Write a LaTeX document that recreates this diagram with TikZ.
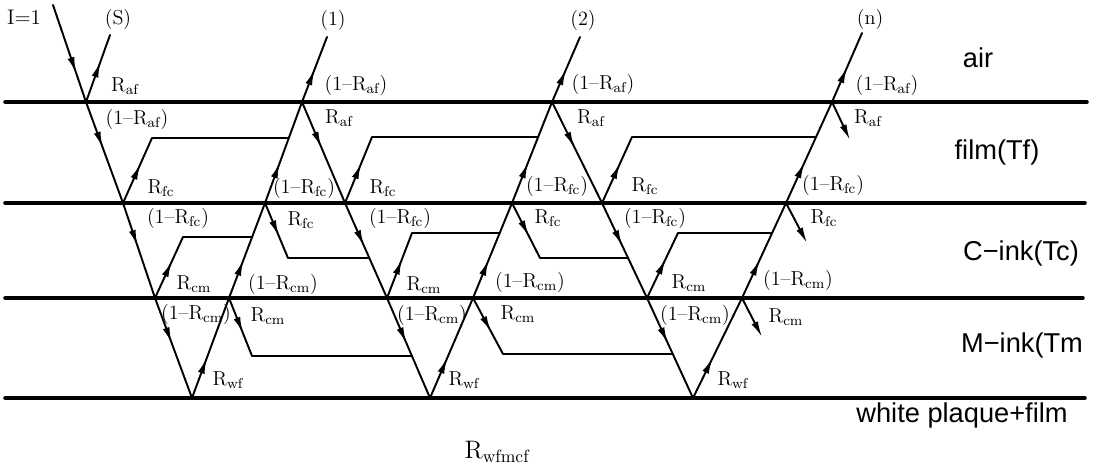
\documentclass[tikz,border=0pt]{standalone}
\usepackage{fontspec}
\newfontfamily\layerfont{Liberation Sans}
\usetikzlibrary{arrows.meta,decorations.markings}

\begin{document}
\begin{tikzpicture}[x=0.2mm,y=-0.2mm,line cap=round,line join=round,
  iface/.style={line width=2pt},
  ray/.style={line width=1.1pt},
  link/.style={line width=0.8pt},
  midarrow/.style={postaction={decorate},decoration={markings,
    mark=at position #1 with {\arrow{Latex[length=9pt,width=4pt]}}}},
  midarrow/.default=0.45,
  endarrow/.style={-{Latex[length=9pt,width=4pt]}},
  lbl/.style={inner sep=0pt,font=\fontsize{11.5}{13}\selectfont},
  layer/.style={inner sep=0pt,font=\layerfont\fontsize{15.5}{18}\selectfont}]
  \useasboundingbox (0,0) rectangle (1096,470);
  % interfaces
  \draw[iface] (5,102) -- (1087,102);
  \draw[iface] (5,203) -- (1085,203);
  \draw[iface] (5,298) -- (1083,298);
  \draw[iface] (5,398) -- (1085,398);
  \node[layer] (air) at (978,58) {air};
  \node[layer] (film) at (997,152) {film(Tf)};
  \node[layer] (cink) at (1021,253) {C−ink(Tc)};
  \node[layer] (mink) at (1022,345) {M−ink(Tm};
  \node[layer] (white) at (962,415) {white plaque+film};
  % vertices
  \coordinate (in) at (53,5);
  \coordinate (s0) at (86,102);   \coordinate (st) at (110,35);
  \coordinate (s1) at (123,203);  \coordinate (s2) at (155,298);
  \coordinate (s3) at (192,398);
  \coordinate (u1) at (229,298);  \coordinate (u2) at (265,203);
  \coordinate (u3) at (302,102);  \coordinate (ut) at (327,37);
  \coordinate (v1) at (345,203);  \coordinate (v2) at (387,298);
  \coordinate (v3) at (430,398);
  \coordinate (w1) at (473,298);  \coordinate (w2) at (512,203);
  \coordinate (w3) at (552,102);  \coordinate (wt) at (580,37);
  \coordinate (x1) at (602,203);  \coordinate (x2) at (647,298);
  \coordinate (x3) at (693,398);
  \coordinate (y1) at (742,298);  \coordinate (y2) at (786,203);
  \coordinate (y3) at (832,102);  \coordinate (yt) at (862,33);
  % knees and ends of the side paths
  \coordinate (s1k) at (152,138); \coordinate (s1e) at (289,138);
  \coordinate (s2k) at (183,237); \coordinate (s2e) at (252,237);
  \coordinate (u1k) at (252,356); \coordinate (u1e) at (412,356);
  \coordinate (u2k) at (288,258); \coordinate (u2e) at (369,258);
  \coordinate (v1k) at (372,137); \coordinate (v1e) at (538,137);
  \coordinate (v2k) at (412,233); \coordinate (v2e) at (500,233);
  \coordinate (w1k) at (503,354); \coordinate (w1e) at (673,354);
  \coordinate (w2k) at (540,258); \coordinate (w2e) at (628,258);
  \coordinate (x1k) at (632,137); \coordinate (x1e) at (816,137);
  \coordinate (x2k) at (678,233); \coordinate (x2e) at (772,233);
  \coordinate (y1k) at (762,337); \coordinate (y2k) at (807,243);
  \coordinate (y3k) at (850,140);
  % (S)
  \draw[ray,midarrow=0.7] (in) -- (s0);
  \draw[ray,midarrow=0.6] (s0) -- (st);
  \draw[ray,midarrow] (s0) -- (s1);
  \draw[ray,midarrow] (s1) -- (s2);
  \draw[ray,midarrow] (s2) -- (s3);
  \draw[ray,midarrow=0.6] (s1) -- (s1k);
  \draw[link] (s1k) -- (s1e);
  \draw[ray,midarrow=0.6] (s2) -- (s2k);
  \draw[link] (s2k) -- (s2e);
  % (1)
  \draw[ray,midarrow=0.4] (s3) -- (u1);
  \draw[ray,midarrow=0.4] (u1) -- (u2);
  \draw[ray,midarrow=0.4] (u2) -- (u3);
  \draw[ray,midarrow=0.5] (u3) -- (ut);
  \draw[ray,midarrow=0.6] (u1) -- (u1k);
  \draw[link] (u1k) -- (u1e);
  \draw[ray,midarrow=0.6] (u2) -- (u2k);
  \draw[link] (u2k) -- (u2e);
  \draw[ray,midarrow] (u3) -- (v1);
  \draw[ray,midarrow] (v1) -- (v2);
  \draw[ray,midarrow] (v2) -- (v3);
  \draw[ray,midarrow=0.6] (v1) -- (v1k);
  \draw[link] (v1k) -- (v1e);
  \draw[ray,midarrow=0.6] (v2) -- (v2k);
  \draw[link] (v2k) -- (v2e);
  % (2)
  \draw[ray,midarrow=0.4] (v3) -- (w1);
  \draw[ray,midarrow=0.4] (w1) -- (w2);
  \draw[ray,midarrow=0.4] (w2) -- (w3);
  \draw[ray,midarrow=0.5] (w3) -- (wt);
  \draw[ray,midarrow=0.6] (w1) -- (w1k);
  \draw[link] (w1k) -- (w1e);
  \draw[ray,midarrow=0.6] (w2) -- (w2k);
  \draw[link] (w2k) -- (w2e);
  \draw[ray,midarrow] (w3) -- (x1);
  \draw[ray,midarrow] (x1) -- (x2);
  \draw[ray,midarrow] (x2) -- (x3);
  \draw[ray,midarrow=0.6] (x1) -- (x1k);
  \draw[link] (x1k) -- (x1e);
  \draw[ray,midarrow=0.6] (x2) -- (x2k);
  \draw[link] (x2k) -- (x2e);
  % (n)
  \draw[ray,midarrow=0.4] (x3) -- (y1);
  \draw[ray,midarrow=0.4] (y1) -- (y2);
  \draw[ray,midarrow=0.4] (y2) -- (y3);
  \draw[ray,midarrow=0.5] (y3) -- (yt);
  \draw[ray,endarrow] (y1) -- (y1k);
  \draw[ray,endarrow] (y2) -- (y2k);
  \draw[ray,endarrow] (y3) -- (y3k);
  % labels
  \node[lbl,font=\fontsize{12}{14}\selectfont] (inten) at (24,17) {I=1};
  \node[lbl] (nS) at (118,19) {(S)};
  \node[lbl] (n1) at (333,20) {(1)};
  \node[lbl] (n2) at (583,20) {(2)};
  \node[lbl] (nn) at (870,19) {(n)};
  \node[lbl] (rafS) at (125,86) {$\mathrm{R_{af}}$};
  \node[lbl] (tafS) at (137,119) {(1--$\mathrm{R_{af}}$)};
  \node[lbl] (rfcS) at (161,188) {$\mathrm{R_{fc}}$};
  \node[lbl] (tfcS) at (178,218) {(1--$\mathrm{R_{fc}}$)};
  \node[lbl] (rcmS) at (194,284) {$\mathrm{R_{cm}}$};
  \node[lbl] (tcmS) at (196,314) {(1--$\mathrm{R_{cm}}$)};
  \node[lbl] (rwfS) at (228,380) {$\mathrm{R_{wf}}$};
  \node[lbl] (tcmA) at (283,284) {(1--$\mathrm{R_{cm}}$)};
  \node[lbl] (rcmA) at (268,316) {$\mathrm{R_{cm}}$};
  \node[lbl] (rfcA) at (301,220) {$\mathrm{R_{fc}}$};
  \node[lbl] (tfcA) at (304,188) {(1--$\mathrm{R_{fc}}$)};
  \node[lbl] (tafA) at (356,85) {(1--$\mathrm{R_{af}}$)};
  \node[lbl] (rafA) at (339,118) {$\mathrm{R_{af}}$};
  \node[lbl] (rfcB) at (383,188) {$\mathrm{R_{fc}}$};
  \node[lbl] (tfcB) at (400,218) {(1--$\mathrm{R_{fc}}$)};
  \node[lbl] (rcmB) at (424,285) {$\mathrm{R_{cm}}$};
  \node[lbl] (tcmB) at (432,315) {(1--$\mathrm{R_{cm}}$)};
  \node[lbl] (rwfB) at (464,380) {$\mathrm{R_{wf}}$};
  \node[lbl] (tcmC) at (530,282) {(1--$\mathrm{R_{cm}}$)};
  \node[lbl] (rcmC) at (518,314) {$\mathrm{R_{cm}}$};
  \node[lbl] (rfcC) at (548,218) {$\mathrm{R_{fc}}$};
  \node[lbl] (tfcC) at (557,186) {(1--$\mathrm{R_{fc}}$)};
  \node[lbl] (tafC) at (603,84) {(1--$\mathrm{R_{af}}$)};
  \node[lbl] (rafC) at (591,118) {$\mathrm{R_{af}}$};
  \node[lbl] (rfcD) at (645,186) {$\mathrm{R_{fc}}$};
  \node[lbl] (tfcD) at (655,218) {(1--$\mathrm{R_{fc}}$)};
  \node[lbl] (rcmD) at (689,283) {$\mathrm{R_{cm}}$};
  \node[lbl] (tcmD) at (695,315) {(1--$\mathrm{R_{cm}}$)};
  \node[lbl] (rwfD) at (733,380) {$\mathrm{R_{wf}}$};
  \node[lbl] (tcmE) at (798,280) {(1--$\mathrm{R_{cm}}$)};
  \node[lbl] (rcmE) at (786,317) {$\mathrm{R_{cm}}$};
  \node[lbl] (rfcE) at (824,218) {$\mathrm{R_{fc}}$};
  \node[lbl] (tfcE) at (833,185) {(1--$\mathrm{R_{fc}}$)};
  \node[lbl] (tafE) at (887,85) {(1--$\mathrm{R_{af}}$)};
  \node[lbl] (rafE) at (868,118) {$\mathrm{R_{af}}$};
  \node[lbl,font=\Large] (rtot) at (497,452) {$\mathrm{R_{wfmcf}}$};
\end{tikzpicture}
\end{document}
